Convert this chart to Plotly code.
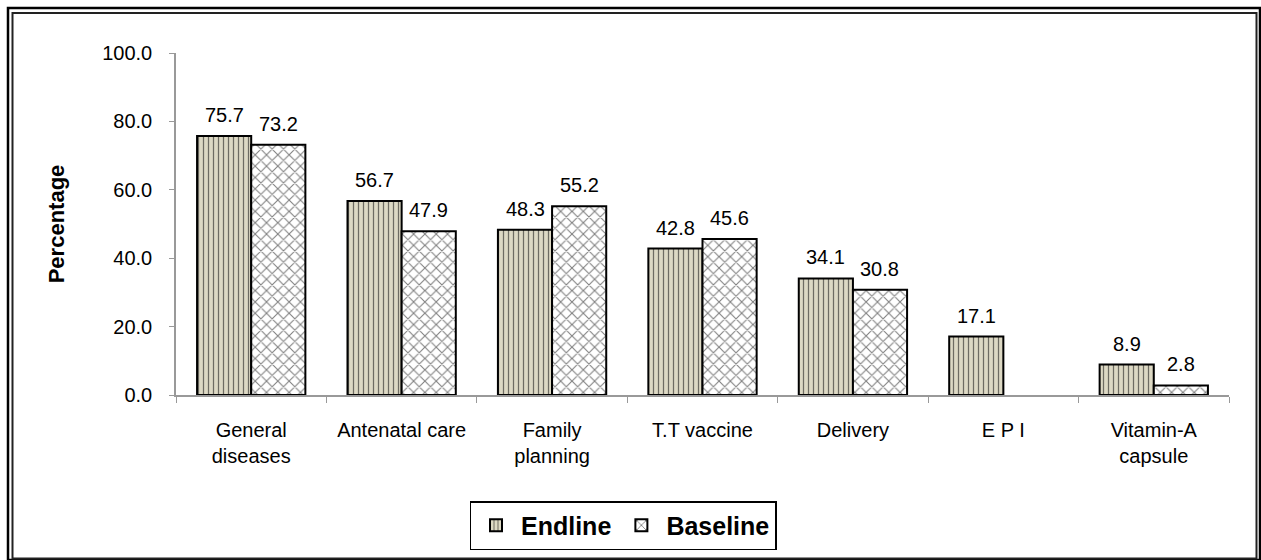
import plotly.graph_objects as go

# chart data
categories = ["General<br>diseases", "Antenatal care", "Family<br>planning", "T.T vaccine",
              "Delivery", "E P I", "Vitamin-A<br>capsule"]
endline = [75.7, 56.7, 48.3, 42.8, 34.1, 17.1, 8.9]
baseline = [73.2, 47.9, 55.2, 45.6, 30.8, None, 2.8]
y_ticks = [0, 20, 40, 60, 80, 100]

W, H = 1261, 560
L, R, T, B = 176, 32, 53, 165
pw, ph = W - L - R, H - T - B


def px_x(x):
    return (x - L) / pw


def px_y(y):
    return (H - B - y) / ph


font = "Arial, Liberation Sans, sans-serif"

fig = go.Figure()
fig.add_trace(go.Bar(
    name="Endline", x=categories, y=endline,
    marker=dict(color="#ddd9c4", line=dict(color="black", width=2),
                pattern=dict(shape="|", fgcolor="black", bgcolor="#ddd9c4",
                             size=5, solidity=0.25)),
))
fig.add_trace(go.Bar(
    name="Baseline", x=categories, y=baseline,
    marker=dict(color="white", line=dict(color="black", width=2),
                pattern=dict(shape="x", fgcolor="black", bgcolor="white",
                             size=8, solidity=0.25)),
))

# value labels above the bars
half = 27
for vals, shift in [(endline, -half), (baseline, half)]:
    for cat, v in zip(categories, vals):
        if v is None:
            continue
        fig.add_annotation(x=cat, y=v, text=f"{v:.1f}", showarrow=False,
                           xshift=shift, yanchor="bottom", yshift=8,
                           font=dict(size=20, color="black", family=font))

# double frame round the chart
shapes = [
    dict(type="rect", xref="paper", yref="paper",
         x0=px_x(8), x1=px_x(1260), y0=px_y(8), y1=px_y(560),
         line=dict(color="black", width=2.5)),
    dict(type="rect", xref="paper", yref="paper",
         x0=px_x(12.5), x1=px_x(1256.5), y0=px_y(13), y1=px_y(558.5),
         line=dict(color="#222222", width=2)),
]

fig.update_layout(
    width=W, height=H,
    margin=dict(l=L, r=R, t=T, b=B),
    paper_bgcolor="white", plot_bgcolor="white",
    font=dict(family=font, size=20, color="black"),
    barmode="group", bargap=0.28, bargroupgap=0,
    shapes=shapes,
    showlegend=True,
    legend=dict(orientation="h", xref="container", yref="container",
                x=623 / W, xanchor="center", y=1 - 501 / H, yanchor="top",
                bordercolor="black", borderwidth=1.5,
                font=dict(size=25, family=font, weight="bold"),
                itemwidth=40, tracegroupgap=0),
    xaxis=dict(showline=True, linecolor="#999999", linewidth=1.5,
               ticks="outside", tickson="boundaries", ticklen=6, tickcolor="#999999",
               ticklabelstandoff=16, tickfont=dict(size=20), showgrid=False),
    yaxis=dict(range=[0, 100], tickvals=y_ticks, tickformat=".1f",
               showline=True, linecolor="#999999", linewidth=1.5,
               ticks="outside", ticklen=5, tickcolor="#999999",
               ticklabelstandoff=13, tickfont=dict(size=20), showgrid=False,
               title=dict(text="<b>Percentage</b>", font=dict(size=22), standoff=31)),
)

fig.write_html("out.html", config={"displayModeBar": False},
               post_script="document.body.style.margin='0';")
